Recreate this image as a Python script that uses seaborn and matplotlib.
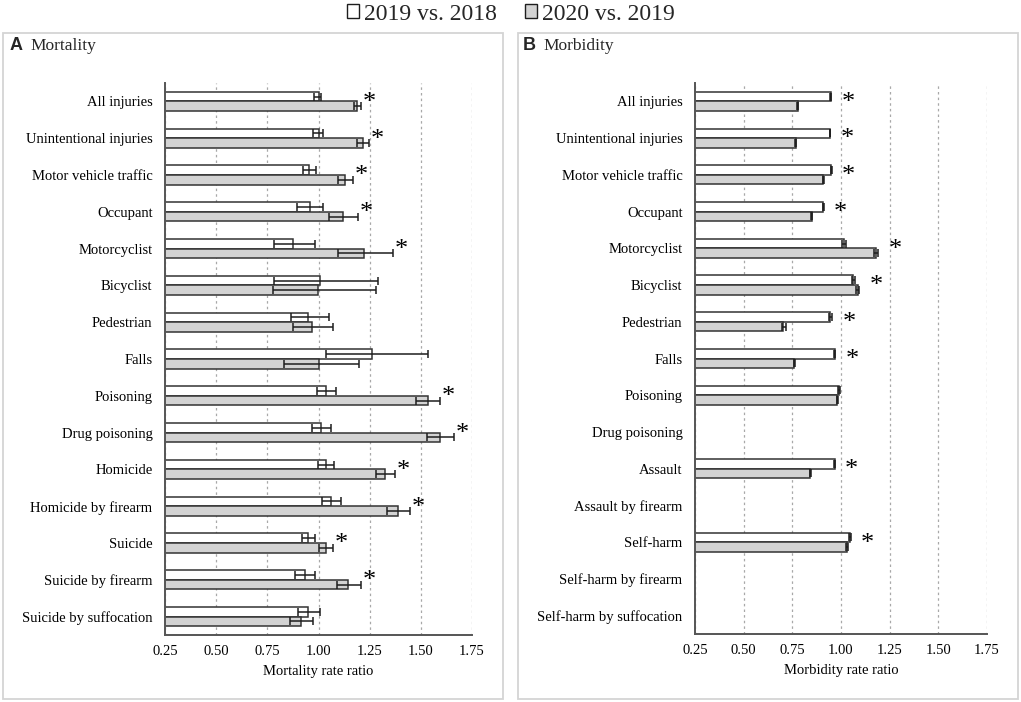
import numpy as np
import pandas as pd
import matplotlib
matplotlib.use("Agg")
import matplotlib.pyplot as plt
import seaborn as sns
from matplotlib.patches import Rectangle, Patch

nan = np.nan

comparisons = ["2019 vs. 2018", "2020 vs. 2019"]

mort_categories = ["All injuries", "Unintentional injuries", "Motor vehicle traffic", "Occupant",
                   "Motorcyclist", "Bicyclist", "Pedestrian", "Falls", "Poisoning", "Drug poisoning",
                   "Homicide", "Homicide by firearm", "Suicide", "Suicide by firearm",
                   "Suicide by suffocation"]
mort_1918 = [1.00, 1.00, 0.954, 0.957, 0.874, 1.006, 0.951, 1.26, 1.036, 1.011, 1.036, 1.06, 0.951, 0.933, 0.951]
mort_1918_lo = [0.98, 0.975, 0.923, 0.895, 0.781, 0.783, 0.866, 1.036, 0.992, 0.967, 0.999, 1.018, 0.918, 0.886, 0.898]
mort_1918_hi = [1.01, 1.02, 0.987, 1.021, 0.982, 1.293, 1.051, 1.534, 1.085, 1.059, 1.078, 1.108, 0.985, 0.982, 1.006]
mort_2019 = [1.19, 1.217, 1.129, 1.118, 1.22, 0.997, 0.969, 1.00, 1.533, 1.595, 1.325, 1.389, 1.036, 1.146, 0.913]
mort_2019_lo = [1.173, 1.19, 1.095, 1.05, 1.093, 0.778, 0.877, 0.83, 1.474, 1.531, 1.283, 1.337, 1.001, 1.088, 0.861]
mort_2019_hi = [1.21, 1.247, 1.167, 1.194, 1.364, 1.281, 1.07, 1.20, 1.595, 1.66, 1.374, 1.445, 1.072, 1.206, 0.971]
mort_sig = [1, 1, 1, 1, 1, 0, 0, 0, 1, 1, 1, 1, 1, 1, 0]

morb_categories = ["All injuries", "Unintentional injuries", "Motor vehicle traffic", "Occupant",
                   "Motorcyclist", "Bicyclist", "Pedestrian", "Falls", "Poisoning", "Drug poisoning",
                   "Assault", "Assault by firearm", "Self-harm", "Self-harm by firearm",
                   "Self-harm by suffocation"]
morb_1918 = [0.948, 0.944, 0.950, 0.908, 1.014, 1.062, 0.946, 0.968, 0.990, nan, 0.967, nan, 1.047, nan, nan]
morb_1918_lo = [0.946, 0.942, 0.947, 0.905, 1.006, 1.055, 0.938, 0.965, 0.987, nan, 0.964, nan, 1.043, nan, nan]
morb_1918_hi = [0.950, 0.946, 0.953, 0.911, 1.025, 1.071, 0.956, 0.971, 0.993, nan, 0.970, nan, 1.051, nan, nan]
morb_2019 = [0.778, 0.767, 0.908, 0.849, 1.18, 1.085, 0.703, 0.760, 0.982, nan, 0.842, nan, 1.032, nan, nan]
morb_2019_lo = [0.776, 0.765, 0.905, 0.846, 1.17, 1.076, 0.695, 0.758, 0.979, nan, 0.839, nan, 1.027, nan, nan]
morb_2019_hi = [0.780, 0.769, 0.911, 0.852, 1.192, 1.095, 0.715, 0.763, 0.985, nan, 0.845, nan, 1.037, nan, nan]
morb_sig = [1, 1, 1, 1, 1, 1, 1, 1, 0, 0, 1, 0, 1, 0, 0]

x_ticks = [0.25, 0.50, 0.75, 1.00, 1.25, 1.50, 1.75]

WHITE = "#ffffff"
GRAY = "#d3d3d3"
EDGE = "#333333"
ERR = "#1e1e1e"

sns.set_theme(style="white")
plt.rcParams["font.family"] = ["Liberation Serif", "DejaVu Serif"]

W, H = 1021, 702
fig = plt.figure(figsize=(W / 100, H / 100), dpi=100)

# panel frames
for x0 in (3, 518):
    fig.add_artist(Rectangle((x0 / W, 3 / H), 500 / W, 666 / H, transform=fig.transFigure,
                             fill=False, edgecolor="#d4d4d4", lw=1.3))

axA = fig.add_axes([165 / W, 1 - 635 / H, 307 / W, 552 / H])
axB = fig.add_axes([695 / W, 1 - 634 / H, 292 / W, 551 / H])

BAR_W = 0.52


def draw(ax, cats, a, alo, ahi, b, blo, bhi, sig, xlabel, star_pts):
    n = len(cats)
    df = pd.DataFrame({
        "category": cats * 2,
        "comparison": [comparisons[0]] * n + [comparisons[1]] * n,
        "ratio": list(a) + list(b),
    }).dropna()
    sns.barplot(data=df, x="ratio", y="category", hue="comparison", order=cats,
                hue_order=comparisons, palette=[WHITE, GRAY], orient="h", width=BAR_W,
                gap=0, edgecolor=EDGE, linewidth=1.1, errorbar=None, legend=False,
                saturation=1, ax=ax, zorder=2)
    idx = np.arange(n)
    for h, (v, lo, hi) in enumerate([(a, alo, ahi), (b, blo, bhi)]):
        v = np.asarray(v, float); lo = np.asarray(lo, float); hi = np.asarray(hi, float)
        m = ~np.isnan(v)
        y = idx + (h - 0.5) * BAR_W / 2
        ax.errorbar(v[m], y[m], xerr=[v[m] - lo[m], hi[m] - v[m]], fmt="none",
                    ecolor=ERR, elinewidth=1.1, capsize=3, capthick=1.1, zorder=3)
    for i in range(n):
        if sig[i]:
            xm = np.nanmax([ahi[i], bhi[i]])
            ax.annotate("*", xy=(xm, i), xytext=(star_pts, -1), textcoords="offset points",
                        ha="center", va="center", fontsize=19, color="black")
    ax.set_xlim(0.25, 1.75)
    ax.set_ylim(n - 0.5, -0.5)
    ax.set_xticks(x_ticks)
    ax.set_xticklabels([f"{t:.2f}" for t in x_ticks])
    ax.xaxis.grid(True, linestyle=(0, (2, 2.5)), color="#a8a8a8", lw=0.9)
    ax.yaxis.grid(False)
    ax.set_axisbelow(True)
    for s in ("top", "right"):
        ax.spines[s].set_visible(False)
    for s in ("left", "bottom"):
        ax.spines[s].set_color("#555555")
        ax.spines[s].set_linewidth(1.4)
        ax.spines[s].set_zorder(4)
    ax.set_ylabel("")
    ax.set_xlabel(xlabel, fontsize=10.5, labelpad=5, color="black")
    ax.tick_params(axis="both", length=0, labelsize=10.5, colors="black")
    ax.tick_params(axis="y", pad=9)
    ax.tick_params(axis="x", pad=7)


draw(axA, mort_categories, mort_1918, mort_1918_lo, mort_1918_hi,
     mort_2019, mort_2019_lo, mort_2019_hi, mort_sig, "Mortality rate ratio", 6)
draw(axB, morb_categories, morb_1918, morb_1918_lo, morb_1918_hi,
     morb_2019, morb_2019_lo, morb_2019_hi, morb_sig, "Morbidity rate ratio", 12)

# panel titles
for xl, xt, lab, title in ((10, 30, "A", "Mortality"), (523, 543, "B", "Morbidity")):
    fig.text(xl / W, 1 - 46 / H, lab, ha="left", va="center", fontsize=13, fontweight="bold",
             family=["Liberation Sans", "DejaVu Sans"])
    fig.text(xt / W, 1 - 46 / H, title, ha="left", va="center", fontsize=12.5)

handles = [Patch(facecolor=WHITE, edgecolor=ERR, lw=1), Patch(facecolor=GRAY, edgecolor=ERR, lw=1)]
fig.legend(handles, comparisons, loc="center", bbox_to_anchor=(511 / W, 1 - 14 / H), ncol=2,
           frameon=False, fontsize=17, handlelength=0.5, handleheight=0.5, handletextpad=0.2,
           columnspacing=1.2, borderpad=0, borderaxespad=0)

fig.savefig("out.png", dpi=100)
